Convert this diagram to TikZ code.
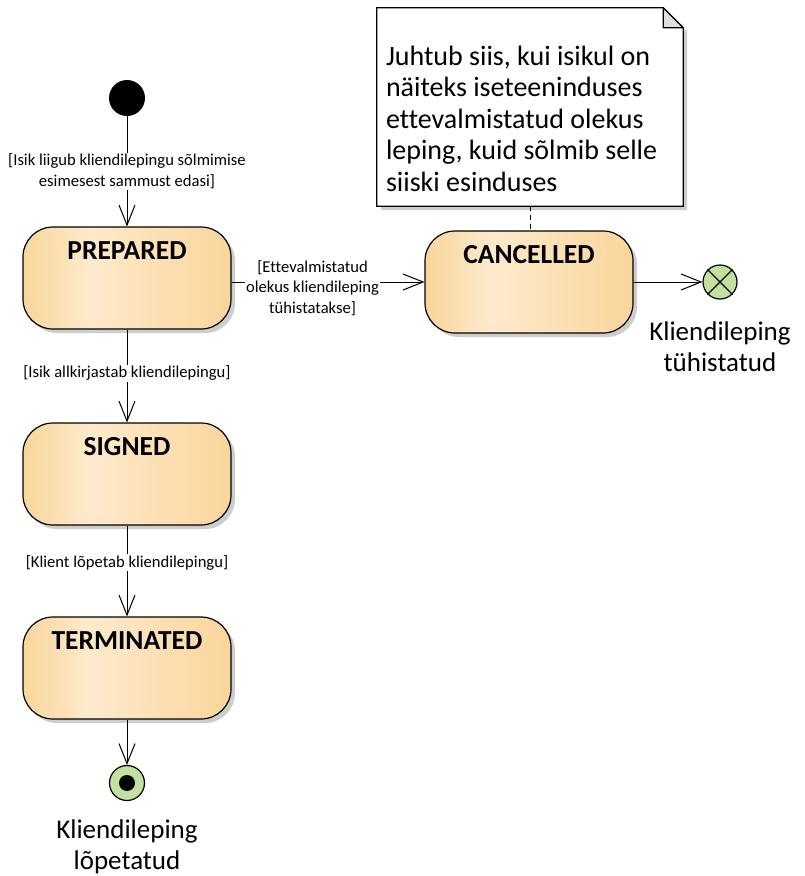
\documentclass[tikz,border=0pt]{standalone}
\usepackage{fontspec}
\setmainfont{Carlito}[Ligatures=NoCommon]
\usetikzlibrary{arrows.meta,positioning,shadows,calc}
\definecolor{stateedge}{RGB}{250,213,155}
\definecolor{statemid}{RGB}{253,234,204}
\definecolor{finalgreen}{RGB}{196,224,158}
\definecolor{shadowgrey}{RGB}{205,205,205}
\definecolor{foldgrey}{RGB}{222,222,222}
\pgfdeclarehorizontalshading{statefill}{100bp}{color(0bp)=(stateedge); color(25bp)=(stateedge);
  color(41bp)=(statemid); color(75bp)=(stateedge); color(100bp)=(stateedge)}
\tikzset{
  state/.style={rectangle, rounded corners=30pt, draw=black, line width=1.2pt,
    minimum width=208pt, minimum height=102pt, shading=statefill,
    drop shadow={shadow xshift=4pt, shadow yshift=-4pt, fill=shadowgrey, opacity=1}},
  title/.style={font=\fontsize{27.5}{32}\selectfont\bfseries, inner sep=0pt,
    anchor=north, yshift=-15pt},
  guard/.style={font=\fontsize{16.6}{20.5}\selectfont, align=center, fill=white, inner sep=1pt},
  trans/.style={line width=1pt, -{Straight Barb[length=20pt,width=16pt,line width=1pt]}},
  bigtext/.style={font=\fontsize{27}{31}\selectfont, align=center, inner sep=0pt},
  notetext/.style={font=\fontsize{28}{31.5}\selectfont, align=left, inner sep=0pt},
}
\begin{document}
\begin{tikzpicture}[x=1pt, y=-1pt]
  \useasboundingbox (0,0) rectangle (804,876);
  \node[circle, fill=black, minimum size=36pt, inner sep=0pt] (init) at (127,98) {};
  \node[state, label={[title]north:PREPARED}] (prepared) at (127,278) {};
  \node[state, label={[title]north:SIGNED}] (signed) at (127,474) {};
  \node[state, label={[title]north:TERMINATED}] (terminated) at (127,668) {};
  \node[state, label={[title]north:CANCELLED}] (cancelled) at (529,282) {};
  \node[circle, draw, line width=1.2pt, fill=finalgreen, minimum size=34pt, inner sep=0pt] (xfinal) at (720,282) {};
  \draw[line width=1.2pt] (xfinal.north west) -- (xfinal.south east)
    (xfinal.north east) -- (xfinal.south west);
  \node[circle, draw, line width=1.2pt, fill=finalgreen, minimum size=35pt, inner sep=0pt] (final) at (127,783) {};
  \fill (final) circle (8pt);
  \node[bigtext, below=22pt of xfinal] (xlabel) {Kliendileping\\tühistatud};
  \node[bigtext, below=18pt of final] (flabel) {Kliendileping\\lõpetatud};

  \node[minimum width=306pt, minimum height=198pt, inner sep=0pt] (note) at (530,107) {};
  \fill[shadowgrey] ($(note.north west)+(4,4)$) -- ($(note.north east)+(-16,4)$)
    -- ($(note.north east)+(4,24)$) -- ($(note.south east)+(4,4)$) -- ($(note.south west)+(4,4)$) -- cycle;
  \filldraw[fill=white, line width=1.2pt] (note.north west) -- ($(note.north east)+(-20,0)$)
    -- ($(note.north east)+(0,20)$) -- (note.south east) -- (note.south west) -- cycle;
  \filldraw[fill=foldgrey, line width=1.2pt, line join=round] ($(note.north east)+(-20,0)$)
    -- ($(note.north east)+(-20,20)$) -- ($(note.north east)+(0,20)$) -- cycle;
  \node[notetext, anchor=north west] (notetext) at ($(note.north west)+(9,38)$)
    {Juhtub siis, kui isikul on\\näiteks iseteeninduses\\ettevalmistatud olekus\\leping, kuid sõlmib selle\\siiski esinduses};

  \draw[trans] (init) -- node[guard] {[Isik liigub kliendilepingu sõlmimise\\esimesest sammust edasi]} (prepared);
  \draw[trans] (prepared) -- node[guard, pos=0.47] {[Isik allkirjastab kliendilepingu]} (signed);
  \draw[trans] (signed) -- node[guard, pos=0.41] {[Klient lõpetab kliendilepingu]} (terminated);
  \draw[trans] (terminated) -- (final);
  \draw[trans] (prepared.east |- cancelled.west) -- node[guard, pos=0.42, yshift=-6pt]
    {[Ettevalmistatud\\olekus kliendileping\\tühistatakse]} (cancelled.west);
  \draw[trans] (cancelled) -- (xfinal);
  \draw[line width=1pt, dash pattern=on 5pt off 4pt] (note.south) -- (note.south |- cancelled.north);
\end{tikzpicture}
\end{document}
